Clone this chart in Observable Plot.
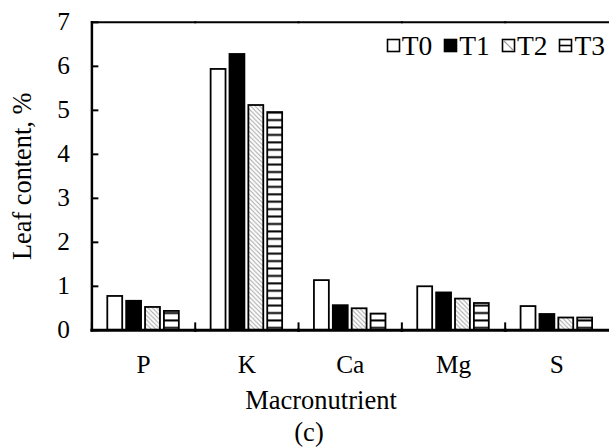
<!DOCTYPE html>
<html><head><meta charset="utf-8">
<script src="https://cdn.jsdelivr.net/npm/d3@7"></script>
<script src="https://cdn.jsdelivr.net/npm/@observablehq/plot@0.6"></script>
<style>
html,body{margin:0;padding:0;overflow:hidden;background:#fff;}
#wrap{position:relative;width:609px;height:447px;overflow:hidden;font-family:"Liberation Serif","Times New Roman",serif;color:#000;}
#wrap svg{position:absolute;left:0;top:0;}
#wrap svg, #wrap svg text{font-family:"Liberation Serif","Times New Roman",serif !important;}
.cap{position:absolute;font-size:26.5px;line-height:1;white-space:nowrap;transform:translateX(-50%);}
#legend{position:absolute;top:32px;right:4px;display:flex;align-items:center;font-size:27.5px;line-height:1;}
#legend .item{display:flex;align-items:center;margin-left:11px;}
#legend svg{position:static;margin-right:1px;}
</style></head><body><div id="wrap"></div>
<script>
const categories = ["P", "K", "Ca", "Mg", "S"];
const treatments = ["T0", "T1", "T2", "T3"];
const T0 = [0.77, 5.93, 1.13, 0.99, 0.54];
const T1 = [0.66, 6.27, 0.56, 0.85, 0.36];
const T2 = [0.52, 5.11, 0.49, 0.71, 0.28];
const T3 = [0.43, 4.95, 0.37, 0.61, 0.28];
const yTicks = [0, 1, 2, 3, 4, 5, 6, 7];
const xTitle = "Macronutrient";
const yTitle = "Leaf content, %";
const caption = "(c)";

const series = [T0, T1, T2, T3];
const rows = categories.flatMap((c, i) => treatments.map((t, j) => ({cat: c, trt: t, value: series[j][i]})));

const plot = Plot.plot({
  width: 613, height: 380,
  marginTop: 22, marginLeft: 91, marginRight: 0, marginBottom: 48,
  style: {fontFamily: "Liberation Serif", fontSize: "25px", color: "black", background: "white", overflow: "visible"},
  fx: {domain: categories, padding: 0, label: null},
  x: {domain: treatments, paddingInner: 0.2, paddingOuter: 0.8, axis: null},
  y: {domain: [0, 7]},
  color: {domain: treatments, range: ["white", "black", "url(#pat-t2)", "url(#pat-t3)"]},
  marks: [
    Plot.barY(rows, {fx: "cat", x: "trt", y: "value", fill: "trt", stroke: "black", strokeWidth: 1.8}),
    Plot.frame({anchor: "top", strokeWidth: 2}),
    Plot.frame({anchor: "left", strokeWidth: 2, insetTop: 303}),
    Plot.frame({anchor: "left", strokeWidth: 2.5, fx: [categories[0]]}),
    Plot.frame({anchor: "bottom", strokeWidth: 3}),
    Plot.axisY(yTicks, {tickSize: 7, dx: 7, tickFormat: () => "", label: null, strokeWidth: 2}),
    Plot.axisY(yTicks, {tickSize: 0, tickPadding: 22, fontSize: 25.5, label: null}),
    Plot.axisY({tickSize: 0, ticks: [], label: yTitle, labelAnchor: "center", labelArrow: "none", labelOffset: 80, fontSize: 26.5}),
    Plot.axisFx({anchor: "bottom", tickSize: 0, tickPadding: 25, label: null, fontSize: 25.5})
  ]
});

d3.select(plot).insert("defs", ":first-child").html(`
  <pattern id="pat-t2" patternUnits="userSpaceOnUse" width="4.5" height="4.5">
    <rect width="4.5" height="4.5" fill="white"/>
    <path d="M-1,-1 L5.5,5.5 M-1,3.5 L1,5.5 M3.5,-1 L5.5,1" stroke="#a8a8a8" stroke-width="1.1"/>
  </pattern>
  <pattern id="pat-t3" patternUnits="userSpaceOnUse" width="10" height="7.47">
    <rect width="10" height="7.47" fill="white"/>
    <rect y="0.35" width="10" height="2" fill="black"/>
  </pattern>`);

const wrap = d3.select("#wrap");
wrap.node().appendChild(plot);

const legend = wrap.append("div").attr("id", "legend");
treatments.forEach((t, j) => {
  const item = legend.append("span").attr("class", "item");
  const s = item.append("svg").attr("width", 15).attr("height", 15);
  s.append("rect").attr("x", 1.5).attr("y", 1.5).attr("width", 12).attr("height", 12)
    .attr("fill", j === 1 ? "black" : "white").attr("stroke", "black").attr("stroke-width", 1.6);
  if (j === 2) s.append("line").attr("x1", 2.5).attr("y1", 2.5).attr("x2", 12.5).attr("y2", 12.5).attr("stroke", "#999").attr("stroke-width", 1.2);
  if (j === 3) s.append("line").attr("x1", 1.5).attr("y1", 7.5).attr("x2", 13.5).attr("y2", 7.5).attr("stroke", "black").attr("stroke-width", 1.6);
  item.append("span").text(t);
});

wrap.append("div").attr("class", "cap").style("left", "321px").style("top", "387px").text(xTitle);
wrap.append("div").attr("class", "cap").style("left", "309px").style("top", "419px").text(caption);
</script>
</body></html>
